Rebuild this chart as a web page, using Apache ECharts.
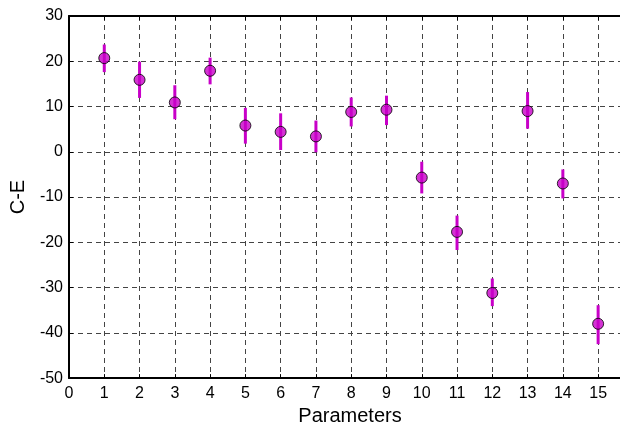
<!DOCTYPE html>
<html>
<head>
<meta charset="utf-8">
<script src="https://cdn.jsdelivr.net/npm/echarts@6/dist/echarts.min.js"></script>
<style>
    html, body { margin: 0; padding: 0; background: #fff; }
    #chart { width: 620px; height: 431px; }
</style>
</head>
<body>
<div id="chart"></div>
<script>
    // parameters 1..15, C-E mean and error bar ends
    var params = [1, 2, 3, 4, 5, 6, 7, 8, 9, 10, 11, 12, 13, 14, 15];
    var means = [20.7, 15.9, 10.9, 17.9, 5.8, 4.4, 3.4, 8.8, 9.3, -5.7, -17.7, -31.2, 9.0, -7.0, -38.0];
    var lows = [17.6, 11.9, 7.2, 14.9, 1.8, 0.4, -0.1, 5.6, 5.9, -9.2, -21.7, -34.1, 5.1, -10.3, -42.5];
    var highs = [23.7, 19.9, 14.7, 20.8, 9.7, 8.5, 6.9, 12.0, 12.4, -2.2, -14.1, -28.0, 13.2, -3.9, -33.9];

    var magenta = '#c800c8';
    var font = 'Liberation Sans, Arial, Helvetica, sans-serif';

    var chart = echarts.init(document.getElementById('chart'));

    var points = params.map(function (p, i) { return [p, means[i]]; });
    var bars = params.map(function (p, i) { return [p, lows[i], highs[i]]; });

    var gridLine = {
        show: true,
        showMaxLine: false,
        lineStyle: { color: '#444', width: 1, type: [5, 4] }
    };

    // the original plot is cut off by the right edge of the picture, a bit past 15
    var xMax = 15.62;

    var option = {
        animation: false,
        backgroundColor: '#fff',
        grid: {
            left: 69,
            right: 0,
            top: 16,
            bottom: 48
        },
        xAxis: [{
            type: 'value',
            min: 0,
            max: xMax,
            interval: 1,
            name: 'Parameters',
            nameLocation: 'middle',
            nameGap: 27,
            nameTextStyle: { color: '#000', fontFamily: font, fontSize: 20, padding: [0, 0, 0, 11] },
            axisLine: { show: true, onZero: false, lineStyle: { color: '#000', width: 2 } },
            axisTick: { show: true, inside: true, length: 4, lineStyle: { color: '#000' } },
            axisLabel: {
                color: '#000', fontFamily: font, fontSize: 16, margin: 7,
                showMaxLabel: false,
                formatter: function (v) { return v % 1 === 0 ? String(v) : ''; }
            },
            splitLine: gridLine
        }, {
            type: 'value',
            position: 'top',
            min: 0,
            max: xMax,
            interval: 1,
            axisLine: { show: true, onZero: false, lineStyle: { color: '#000', width: 2 } },
            axisTick: { show: true, inside: true, length: 4, lineStyle: { color: '#000' } },
            axisLabel: { show: false },
            splitLine: { show: false }
        }],
        yAxis: {
            type: 'value',
            min: -50,
            max: 30,
            interval: 10,
            name: 'C-E',
            nameLocation: 'middle',
            nameGap: 41,
            nameTextStyle: { color: '#000', fontFamily: font, fontSize: 20 },
            axisLine: { show: true, onZero: false, lineStyle: { color: '#000', width: 2 } },
            axisTick: { show: true, inside: true, length: 4, lineStyle: { color: '#000' } },
            axisLabel: { color: '#000', fontFamily: font, fontSize: 16, margin: 6 },
            splitLine: gridLine
        },
        series: [
            {
                type: 'custom',
                data: bars,
                z: 3,
                renderItem: function (params, api) {
                    var top = api.coord([api.value(0), api.value(2)]);
                    var bottom = api.coord([api.value(0), api.value(1)]);
                    return {
                        type: 'line',
                        shape: { x1: top[0], y1: top[1], x2: bottom[0], y2: bottom[1] },
                        style: { stroke: magenta, lineWidth: 3 }
                    };
                }
            },
            {
                type: 'scatter',
                data: points,
                z: 4,
                symbol: 'circle',
                symbolSize: 11,
                itemStyle: { color: magenta, borderColor: '#000', borderWidth: 1 }
            }
        ]
    };

    chart.setOption(option);
</script>
</body>
</html>
